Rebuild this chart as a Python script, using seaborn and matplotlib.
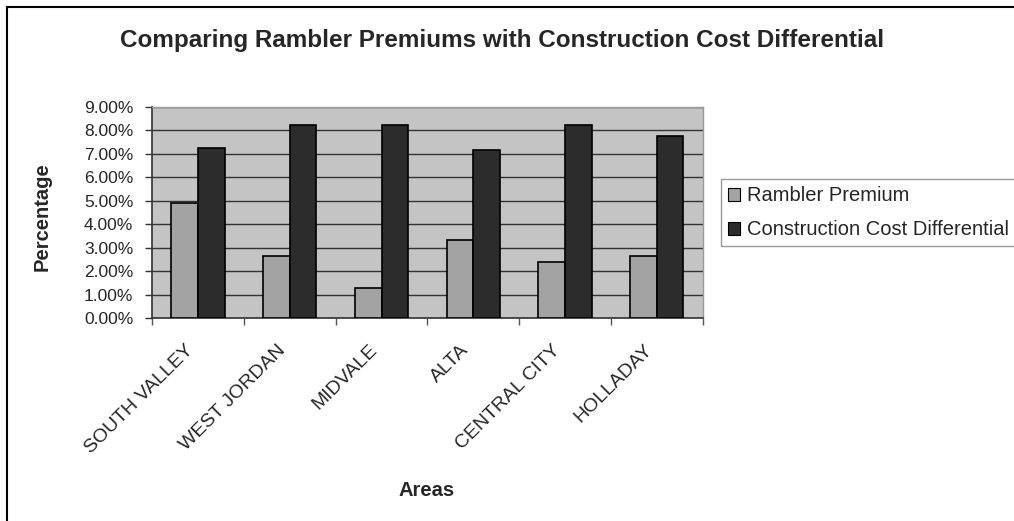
import matplotlib
matplotlib.use("Agg")
import matplotlib.pyplot as plt
import matplotlib.patches as mpatches
import matplotlib.transforms as mtransforms
import numpy as np
import pandas as pd
import seaborn as sns

areas = ["SOUTH VALLEY", "WEST JORDAN", "MIDVALE", "ALTA", "CENTRAL CITY", "HOLLADAY"]
rambler_premium = [4.90, 2.65, 1.30, 3.33, 2.38, 2.66]
construction_cost_diff = [7.25, 8.22, 8.22, 7.18, 8.25, 7.75]
series_names = ["Rambler Premium", "Construction Cost Differential"]
y_ticks = [0, 1, 2, 3, 4, 5, 6, 7, 8, 9]

df = pd.DataFrame({
    "Area": areas * 2,
    "Series": [series_names[0]] * len(areas) + [series_names[1]] * len(areas),
    "Value": rambler_premium + construction_cost_diff,
})

sns.set_theme(style="white")
plt.rcParams["font.family"] = ["Liberation Sans", "DejaVu Sans"]

bar_colors = ["#a3a3a3", "#2c2c2c"]

fig = plt.figure(figsize=(10.14, 5.21), dpi=100)
ax = fig.add_axes([0.150, 0.3896, 0.543, 0.405])
ax.set_facecolor("#c4c4c4")

sns.barplot(data=df, x="Area", y="Value", hue="Series", order=areas,
            hue_order=series_names, palette=bar_colors,
            width=0.58, gap=0, edgecolor="black", linewidth=1.2,
            saturation=1, ax=ax, legend=False, zorder=3)

ax.set_ylim(0, 9)
ax.set_xlim(-0.5, len(areas) - 0.5)
ax.set_yticks(y_ticks)
ax.set_yticklabels([f"{v:.2f}%" for v in y_ticks], fontsize=12.5)
ax.yaxis.grid(True, color="#333333", linewidth=1.0, zorder=1)
ax.set_axisbelow(True)

# Category labels at centres, tick marks at category boundaries
ax.set_xticks(range(len(areas)))
ax.set_xticklabels(areas, rotation=45, ha="right", va="top",
                   rotation_mode="anchor", fontsize=14)
ax.tick_params(axis="x", which="major", length=0, pad=17)
shift = mtransforms.ScaledTranslation(-0.13, 0, fig.dpi_scale_trans)
for lbl in ax.xaxis.get_majorticklabels():
    lbl.set_transform(lbl.get_transform() + shift)
ax.set_xticks(np.arange(-0.5, len(areas)), minor=True)
ax.tick_params(axis="x", which="minor", length=5, width=1, color="#555555",
               direction="out", bottom=True)
ax.tick_params(axis="y", length=5, width=1, color="#333333",
               direction="out", left=True, pad=8.5)

for side in ["top", "right"]:
    ax.spines[side].set_color("#9a9a9a")
    ax.spines[side].set_linewidth(1)
for side in ["left", "bottom"]:
    ax.spines[side].set_color("#333333")
    ax.spines[side].set_linewidth(1.2)

ax.set_xlabel("")
ax.set_ylabel("")
fig.text(0.421, 0.0595, "Areas", ha="center", va="center",
         fontsize=14.5, fontweight="bold")
fig.text(0.0414, 0.585, "Percentage", ha="center", va="center", rotation=90,
         fontsize=14.5, fontweight="bold")

fig.text(0.495, 0.923, "Comparing Rambler Premiums with Construction Cost Differential",
         ha="center", va="center", fontsize=17.5, fontweight="bold")

handles = [mpatches.Patch(facecolor=c, edgecolor="black", linewidth=0.8, label=n)
           for c, n in zip(bar_colors, series_names)]
leg = fig.legend(handles=handles, loc="upper left", bbox_to_anchor=(0.711, 0.656),
                 fontsize=14.5, frameon=True, fancybox=False, handlelength=0.6,
                 handleheight=0.6, handletextpad=0.35, borderpad=0.35,
                 labelspacing=0.75, borderaxespad=0)
leg.get_frame().set_edgecolor("#808080")
leg.get_frame().set_linewidth(1)

# Outer chart border
fig.patches.append(mpatches.Rectangle((7 / 1014, -0.1), 1.2, 1.1 - 7 / 521,
                                      transform=fig.transFigure, fill=False,
                                      edgecolor="black", linewidth=1.5))

fig.savefig("out.png", dpi=100)
